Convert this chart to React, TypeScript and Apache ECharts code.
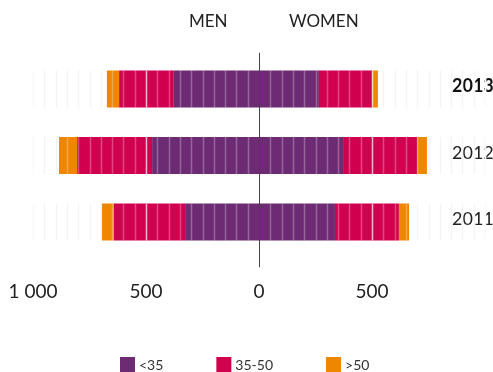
import React, { useEffect, useRef } from "react";
import * as echarts from "echarts";

// Years shown, bottom to top
const years = ["2011", "2012", "2013"];
// Age groups (stack order from the centre outward)
const ageGroups = ["<35", "35-50", ">50"];
const groupColors = ["#6C2B73", "#D1004F", "#EE8600"];

// Headcount per age group, men (drawn to the left) and women (to the right)
const menUnder35 = [327, 473, 377];
const men35to50 = [316, 332, 242];
const menOver50 = [52, 80, 54];

const womenUnder35 = [336, 372, 265];
const women35to50 = [283, 328, 237];
const womenOver50 = [45, 43, 24];

// Value axis
const axisMin = -1000;
const axisMax = 1000;
const axisInterval = 500;
const stripeStep = 50;
const highlightedYear = "2013";

const FONT = "Lato, 'Open Sans', sans-serif";
const BAR_HEIGHT = 37;

function stripeValues(): number[] {
  const vals: number[] = [];
  for (let v = axisMin; v <= axisMax; v += stripeStep) {
    if (v !== 0) vals.push(v);
  }
  return vals;
}

function formatTick(v: number): string {
  const a = Math.abs(v);
  if (a >= 1000) {
    const s = String(a);
    return s.slice(0, s.length - 3) + " " + s.slice(s.length - 3);
  }
  return String(a);
}

export default function App() {
  const ref = useRef<HTMLDivElement>(null);

  useEffect(() => {
    if (!ref.current) return;
    const chart = echarts.init(ref.current, undefined, { renderer: "svg" });
    const stripes = stripeValues();

    const stripeItems = years.map((y, i) => [0, i]);

    const makeStripes = (over: boolean) => (params: any, api: any) => {
      const cat = api.value(1);
      const yc = api.coord([0, cat])[1];
      const children = stripes.map((v) => {
        const x = Math.round(api.coord([v, cat])[0]) + 0.5;
        let stroke: string;
        if (over) {
          stroke = v % 500 === 0 ? "rgba(255,255,255,0.72)" : "rgba(255,255,255,0.28)";
        } else {
          stroke = "#f0f0f0";
        }
        return {
          type: "line",
          shape: { x1: x, y1: yc - BAR_HEIGHT / 2, x2: x, y2: yc + BAR_HEIGHT / 2 },
          style: { stroke, lineWidth: 1.5 },
        };
      });
      return { type: "group", children };
    };

    const barBase = {
      type: "bar" as const,
      barWidth: BAR_HEIGHT,
      barGap: "-100%",
      z: 3,
    };

    const menSeries = [menUnder35, men35to50, menOver50].map((arr, i) => ({
      ...barBase,
      name: ageGroups[i],
      stack: "men",
      itemStyle: { color: groupColors[i] },
      data: arr.map((v) => -v),
    }));
    const womenSeries = [womenUnder35, women35to50, womenOver50].map((arr, i) => ({
      ...barBase,
      name: ageGroups[i],
      stack: "women",
      itemStyle: { color: groupColors[i] },
      data: arr,
    }));

    chart.setOption({
      animation: false,
      grid: {
        left: 33,
        right: 8,
        top: 55.75,
        height: 199.5,
        containLabel: false,
        outerBoundsMode: "none",
      },
      xAxis: {
        type: "value",
        min: axisMin,
        max: axisMax,
        interval: axisInterval,
        axisLine: { show: false },
        axisTick: { show: false },
        splitLine: { show: false },
        axisLabel: {
          fontFamily: FONT,
          fontSize: 19,
          color: "#222",
          margin: 26,
          showMaxLabel: false,
          formatter: (v: number) => (v >= axisMax ? "" : formatTick(v)),
        },
      },
      yAxis: {
        type: "category",
        data: years,
        position: "right",
        axisLine: { show: false },
        axisTick: { show: false },
        splitLine: { show: false },
        axisLabel: {
          fontFamily: FONT,
          fontSize: 18,
          color: "#222",
          align: "left",
          margin: -33,
          padding: [0, 0, 8, 0],
          formatter: (v: string) => (v === highlightedYear ? `{b|${v}}` : v),
          rich: {
            b: { fontFamily: FONT, fontSize: 18, fontWeight: "bold", color: "#111" },
          },
        },
      },
      legend: {
        data: ageGroups,
        left: 120,
        top: 357,
        padding: 0,
        itemWidth: 15,
        itemHeight: 15,
        itemGap: 53,
        icon: "rect",
        selectedMode: false,
        textStyle: { fontFamily: FONT, fontSize: 14, color: "#333", padding: [0, 0, 0, -1] },
      },
      graphic: [
        {
          type: "text",
          left: 189,
          top: 12,
          style: { text: "MEN", fontFamily: FONT, fontSize: 17, fill: "#222" },
        },
        {
          type: "text",
          left: 289,
          top: 12,
          style: { text: "WOMEN", fontFamily: FONT, fontSize: 17, fill: "#222" },
        },
      ],
      series: [
        {
          type: "custom",
          name: "stripes-under",
          silent: true,
          z: 1,
          renderItem: makeStripes(false),
          encode: { x: 0, y: 1 },
          data: stripeItems,
        },
        ...menSeries,
        ...womenSeries,
        {
          type: "custom",
          name: "stripes-over",
          silent: true,
          z: 5,
          renderItem: makeStripes(true),
          encode: { x: 0, y: 1 },
          data: stripeItems,
        },
        {
          type: "custom",
          name: "zero-line",
          silent: true,
          z: 6,
          renderItem: (params: any, api: any) => {
            const cs = params.coordSys;
            const x = Math.round(api.coord([0, 0])[0]) + 0.5;
            return {
              type: "line",
              shape: { x1: x, y1: cs.y - 3, x2: x, y2: cs.y + cs.height + 12 },
              style: { stroke: "#444", lineWidth: 1 },
            };
          },
          encode: { x: 0, y: 1 },
          data: [[0, 0]],
        },
      ],
    });

    return () => chart.dispose();
  }, []);

  return (
    <div
      ref={ref}
      style={{ position: "fixed", left: 0, top: 0, width: 493, height: 372 }}
    />
  );
}
